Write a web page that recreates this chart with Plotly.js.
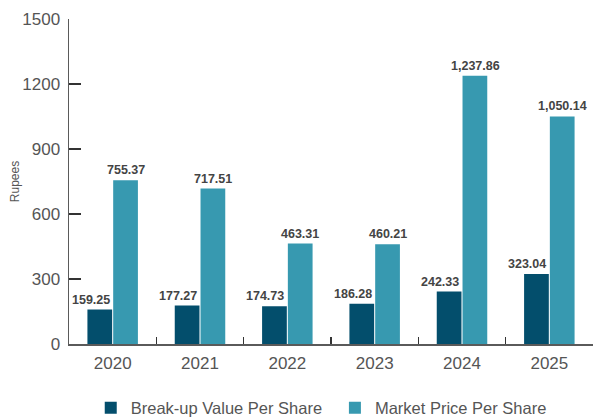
<!DOCTYPE html>
<html>
<head>
<meta charset="utf-8">
<script src="https://cdn.plot.ly/plotly-3.0.1.min.js"></script>
<style>html,body{margin:0;padding:0;background:#fff;}#chart{width:597px;height:418px;}</style>
</head>
<body>
<div id="chart"></div>
<script>
var years = ['2020', '2021', '2022', '2023', '2024', '2025'];
var breakupValue = [159.25, 177.27, 174.73, 186.28, 242.33, 323.04];
var marketPrice = [755.37, 717.51, 463.31, 460.21, 1237.86, 1050.14];
var yTicks = [0, 300, 600, 900, 1200, 1500];
var seriesNames = ['Break-up Value Per Share', 'Market Price Per Share'];

var FONT = '"Liberation Sans", Arial, Helvetica, sans-serif';
var darkColor = '#034e6c';
var lightColor = '#3799b0';
var textColor = '#555555';

function fmt(v) {
  return v.toLocaleString('en-US', {minimumFractionDigits: 2, maximumFractionDigits: 2});
}

var traces = [
  {type: 'bar', name: seriesNames[0], x: years, y: breakupValue,
   marker: {color: darkColor}, hoverinfo: 'none', legend: 'legend'},
  {type: 'bar', name: seriesNames[1], x: years, y: marketPrice,
   marker: {color: lightColor}, hoverinfo: 'none', legend: 'legend2'}
];

var annotations = [];
years.forEach(function (yr, i) {
  annotations.push({x: i, y: breakupValue[i], xref: 'x', yref: 'y', text: fmt(breakupValue[i]),
    showarrow: false, xanchor: 'right', yanchor: 'bottom', xshift: -1, yshift: 1,
    font: {family: FONT, size: 12.5, color: '#444444', weight: 'bold'}});
  annotations.push({x: i, y: marketPrice[i], xref: 'x', yref: 'y', text: fmt(marketPrice[i]),
    showarrow: false, xanchor: 'center', yanchor: 'bottom', xshift: 13, yshift: 1,
    font: {family: FONT, size: 12.5, color: '#444444', weight: 'bold'}});
});

var layout = {
  width: 597, height: 418,
  margin: {l: 69, r: 4, t: 19, b: 74, pad: 0},
  paper_bgcolor: '#ffffff', plot_bgcolor: '#ffffff',
  font: {family: FONT, color: textColor},
  barmode: 'group', bargap: 0.41, bargroupgap: 0.04,
  showlegend: true,
  xaxis: {
    type: 'category', showgrid: false, zeroline: false,
    showline: true, linecolor: '#5a5a5a', linewidth: 1.5,
    ticks: 'inside', tickson: 'boundaries', ticklen: 7, tickcolor: '#333333', tickwidth: 1.5,
    tickfont: {family: FONT, size: 17, color: textColor},
    ticklabelstandoff: 3
  },
  yaxis: {
    range: [0, 1500], tickvals: yTicks, ticktext: yTicks.map(String),
    showgrid: false, zeroline: false,
    showline: true, linecolor: '#5a5a5a', linewidth: 1.5,
    ticks: 'inside', ticklen: 12, tickcolor: '#333333', tickwidth: 1.5,
    tickfont: {family: FONT, size: 17, color: textColor},
    ticklabelstandoff: 4,
    title: {text: 'Rupees', font: {family: FONT, size: 12, color: textColor}, standoff: 0}
  },
  legend: {
    orientation: 'h', xref: 'container', yref: 'container', x: 0.152, y: 0.024,
    xanchor: 'left', yanchor: 'middle', bgcolor: 'rgba(0,0,0,0)',
    font: {family: FONT, size: 16.5, color: textColor}
  },
  legend2: {
    orientation: 'h', xref: 'container', yref: 'container', x: 0.561, y: 0.024,
    xanchor: 'left', yanchor: 'middle', bgcolor: 'rgba(0,0,0,0)',
    font: {family: FONT, size: 16.5, color: textColor}
  },
  annotations: annotations
};

Plotly.newPlot('chart', traces, layout, {displayModeBar: false, staticPlot: true});
</script>
</body>
</html>
